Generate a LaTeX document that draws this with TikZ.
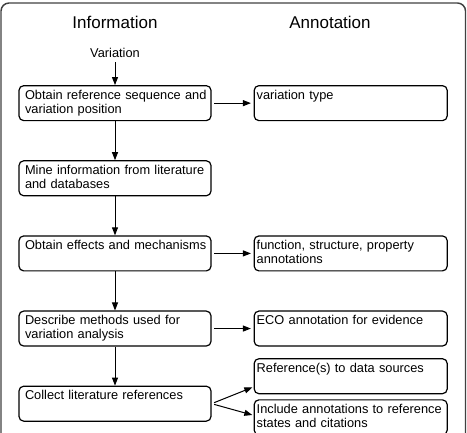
\documentclass[tikz,border=0pt]{standalone}
\usepackage{fontspec}
\setmainfont{Liberation Sans}
\usetikzlibrary{positioning,arrows.meta}

\begin{document}
\begin{tikzpicture}[
  x=0.75pt, y=-0.75pt,
  node distance=29.25pt and 31.5pt,
  font=\fontsize{9.6pt}{10.5pt}\selectfont,
  box/.style={draw, rounded corners=3.5pt, line width=0.9pt, align=left,
              inner ysep=3pt, text height=7.2pt, text depth=13pt},
  infobox/.style={box, text width=139pt, inner xsep=2.5pt},
  annobox/.style={box, text width=141pt, inner xsep=1.875pt},
  head/.style={font=\fontsize{12.75pt}{14pt}\selectfont},
  arrow/.style={-{Triangle[length=6pt,width=4.5pt]}, line width=0.75pt}
]
\useasboundingbox (0,0) rectangle (467,432);
\draw [line width=1.1pt, black!75, rounded corners=6pt] (1,3) rectangle (465.5,450);

\node (infohead) [head] at (115,22) {Information};
\node (annohead) [head] at (330,22) {Annotation};
\node (variation) at (115,53) {Variation};

\node (obtain) [infobox, below=17pt of variation]
    {\hspace*{2pt}Obtain reference sequence and\\\hspace*{2pt}variation position};
\node (mine) [infobox, below=of obtain]
    {\hspace*{2pt}Mine information from literature\\\hspace*{2pt}and databases};
\node (effects) [infobox, below=of mine]
    {\hspace*{2pt}Obtain effects and mechanisms};
\node (methods) [infobox, below=of effects]
    {\hspace*{2pt}Describe methods used for\\\hspace*{2pt}variation analysis};
\node (collect) [infobox, below=of methods]
    {\hspace*{2pt}Collect literature references};

\node (vartype) [annobox, right=of obtain] {variation type};
\node (func) [annobox, right=of effects]
    {function, structure, property\\annotations};
\node (eco) [annobox, right=of methods] {ECO annotation for evidence};
\node (refs) [annobox, right=of collect, yshift=20.6pt]
    {Reference(s) to data sources};
\node (include) [annobox, below=3.75pt of refs]
    {Include annotations to reference\\states and citations};

\draw [arrow] (variation) -- (obtain);
\draw [arrow] (obtain) -- (mine);
\draw [arrow] (mine) -- (effects);
\draw [arrow] (effects) -- (methods);
\draw [arrow] (methods) -- (collect);
\draw [arrow, shorten <=2pt, shorten >=2pt] (obtain.east) -- (obtain.east -| vartype.west);
\draw [arrow, shorten <=2pt, shorten >=2pt] (effects.east) -- (effects.east -| func.west);
\draw [arrow, shorten <=2pt, shorten >=2pt] (methods.east) -- (methods.east -| eco.west);
\draw [arrow, shorten <=2pt, shorten >=1pt] (collect.east) -- ([yshift=-8pt]refs.west);
\draw [arrow, shorten <=2pt, shorten >=1pt] (collect.east) -- ([yshift=1.5pt]include.west);

\end{tikzpicture}
\end{document}
